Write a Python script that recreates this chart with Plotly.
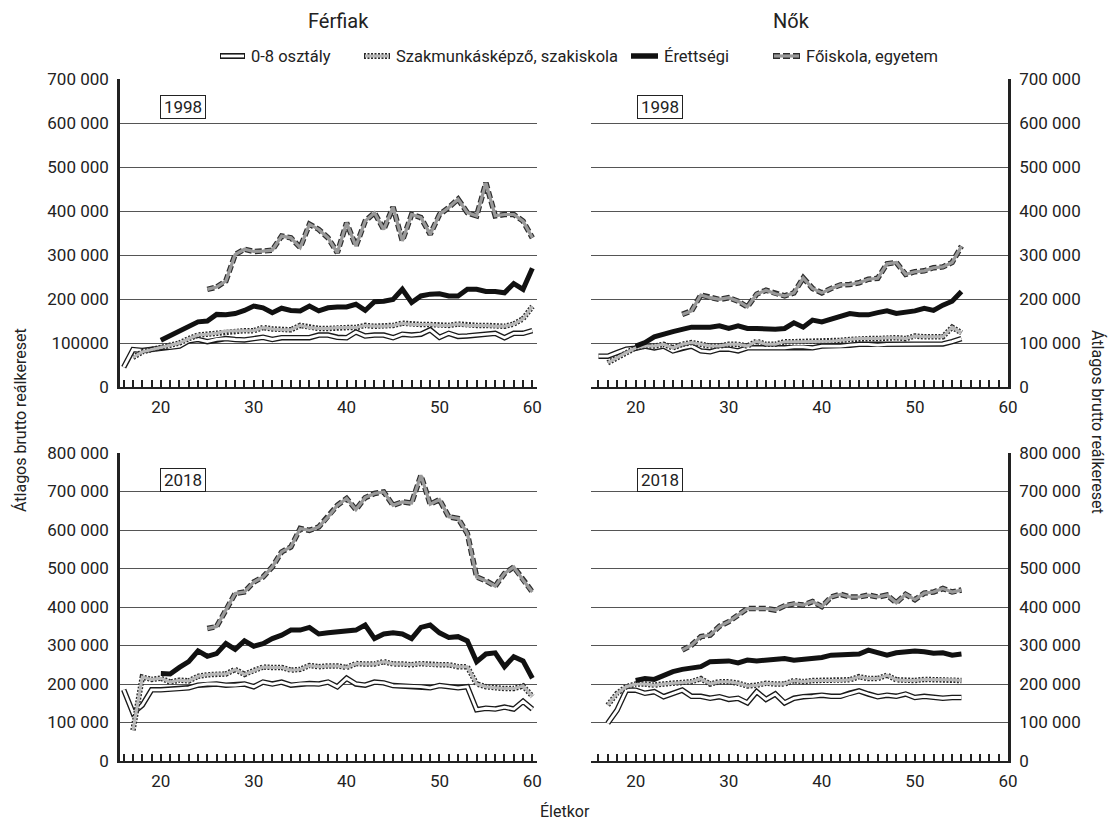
import plotly.graph_objects as go

# ---------------- data (Ft) ----------------
AGES_MEN = list(range(16, 61))
AGES_WOMEN = list(range(16, 56))
SERIES = ["0-8 osztály", "Szakmunkásképző, szakiskola", "Érettségi", "Főiskola, egyetem"]
PANEL_TITLES = ["Férfiak", "Nők"]
YEARS = ["1998", "2018"]

MEN_1998_08 = [45, 85, 83, 85, 90, 90, 93, 105, 108, 103, 108, 110, 108, 107, 110, 113, 108, 112, 112, 112,
               112, 118, 118, 113, 112, 125, 116, 118, 118, 112, 120, 118, 120, 130, 113, 122, 115, 116, 118, 120,
               122, 112, 122, 122, 128]
MEN_1998_SZAK = [67, 80, 85, 90, 95, 100, 110, 118, 120, 122, 127, 128, 128, 128, 135, 132, 130, 130, 140, 135,
                 133, 133, 135, 135, 135, 140, 138, 138, 140, 145, 142, 142, 142, 140, 140, 143, 140, 140, 140, 138,
                 138, 143, 155, 183]
MEN_1998_ERETT = [106, 116, 127, 139, 148, 150, 165, 164, 167, 174, 184, 180, 169, 179, 174, 173, 184, 173, 180, 182,
                  182, 188, 174, 194, 195, 199, 222, 192, 207, 211, 212, 207, 207, 222, 222, 217, 217, 214, 235, 222,
                  270]
MEN_1998_FOISK = [222, 227, 241, 301, 313, 308, 309, 311, 343, 339, 317, 370, 358, 339, 305, 373, 320, 377, 396, 358,
                  409, 332, 392, 385, 347, 392, 408, 427, 396, 389, 464, 389, 392, 392, 377, 339]

WOMEN_1998_08 = [70, 70, 78, 86, 88, 93, 89, 93, 82, 89, 93, 82, 80, 86, 86, 82, 89, 89, 89, 89,
                 89, 91, 91, 89, 93, 93, 93, 95, 97, 97, 95, 97, 97, 97, 97, 98, 98, 98, 103, 110]
WOMEN_1998_SZAK = [55, 67, 78, 89, 93, 93, 97, 89, 97, 101, 97, 93, 93, 97, 97, 93, 104, 97, 97, 103,
                   103, 103, 104, 104, 104, 106, 108, 110, 110, 110, 112, 112, 110, 116, 114, 114, 114, 136, 123]
WOMEN_1998_ERETT = [93, 101, 114, 121, 126, 131, 136, 136, 136, 139, 133, 139, 133, 133, 131, 131, 133, 146, 136, 152,
                    148, 154, 159, 167, 164, 164, 169, 173, 167, 169, 173, 179, 174, 186, 195, 217]
WOMEN_1998_FOISK = [165, 173, 209, 203, 199, 203, 195, 182, 211, 220, 212, 207, 214, 248, 224, 214, 224, 232, 233, 237,
                    245, 247, 280, 283, 256, 262, 264, 271, 273, 283, 320]

MEN_2018_08 = [185, 125, 145, 185, 185, 186, 188, 190, 197, 200, 200, 197, 197, 200, 193, 205, 200, 205, 197, 200,
               201, 200, 205, 193, 215, 200, 197, 205, 203, 196, 195, 195, 193, 190, 196, 193, 190, 193, 133, 137,
               135, 140, 135, 155, 135]
MEN_2018_SZAK = [80, 218, 212, 215, 205, 210, 208, 220, 224, 226, 226, 238, 225, 235, 244, 243, 243, 236, 238, 248,
                 245, 247, 247, 243, 253, 252, 252, 258, 252, 252, 250, 253, 250, 250, 250, 245, 245, 200, 193, 190,
                 188, 188, 195, 168]
MEN_2018_ERETT = [227, 226, 243, 258, 286, 272, 279, 305, 290, 312, 298, 305, 318, 327, 340, 340, 347, 330, 333, 336,
                  340, 340, 353, 318, 330, 333, 330, 318, 347, 353, 333, 321, 323, 312, 258, 278, 281, 245, 271, 260,
                  215]
MEN_2018_FOISK = [344, 349, 392, 435, 439, 465, 478, 504, 543, 556, 604, 599, 608, 634, 664, 682, 653, 684, 695, 699,
                  664, 673, 670, 742, 667, 679, 634, 630, 591, 478, 468, 454, 487, 504, 470, 439]

WOMEN_2018_08 = [98, 132, 184, 184, 176, 180, 167, 176, 184, 168, 168, 163, 167, 160, 163, 151, 180, 160, 174, 151,
                 163, 167, 168, 171, 168, 168, 176, 182, 174, 167, 171, 168, 174, 165, 168, 165, 163, 165, 165]
WOMEN_2018_SZAK = [145, 176, 193, 200, 200, 197, 200, 202, 203, 206, 214, 200, 206, 206, 202, 195, 197, 202, 200, 200,
                   209, 206, 209, 209, 209, 209, 211, 219, 214, 214, 223, 211, 209, 209, 212, 212, 211, 211, 209]
WOMEN_2018_ERETT = [209, 214, 212, 223, 232, 238, 240, 245, 258, 260, 260, 255, 262, 260, 262, 264, 266, 262, 264, 269,
                    269, 275, 275, 275, 278, 288, 280, 275, 281, 284, 286, 284, 280, 281, 275, 278]
WOMEN_2018_FOISK = [288, 301, 323, 327, 350, 362, 379, 396, 396, 396, 392, 403, 408, 405, 414, 401, 426, 433, 426, 426,
                    431, 426, 431, 411, 433, 419, 436, 439, 448, 439, 444]

TICKS_TOP = [0, 100000, 200000, 300000, 400000, 500000, 600000, 700000]
TICKS_BOTTOM = [0, 100000, 200000, 300000, 400000, 500000, 600000, 700000, 800000]
X_TICKS = [20, 30, 40, 50, 60]

# ---------------- styling ----------------
FONT = "Roboto, Liberation Sans, Arial, sans-serif"
INK = "#222222"
TICK_SIZE = 17
# (outer colour, outer width, outer dash, inner colour, inner width) per series; None = single line
STYLES = [
    ("#1a1a1a", 5.5, "solid", "#ffffff", 2.8),
    ("#2a2a2a", 5.5, "2px,1.5px", "#b8b8b8", 3.0),
    ("#111111", 5.0, "solid", None, None),
    ("#2e2e2e", 5.5, "7px,3px", "#999999", 3.2),
]

W, H = 1120, 822
ML, MR, MT, MB = 120, 112, 79, 61
PW, PH = W - ML - MR, H - MT - MB


def px(x):
    return (x - ML) / PW


def py(y):
    return (H - MB - y) / PH


fig = go.Figure()

panels = [
    ("x", "y", AGES_MEN, [MEN_1998_08, MEN_1998_SZAK, MEN_1998_ERETT, MEN_1998_FOISK]),
    ("x2", "y2", AGES_WOMEN, [WOMEN_1998_08, WOMEN_1998_SZAK, WOMEN_1998_ERETT, WOMEN_1998_FOISK]),
    ("x3", "y3", AGES_MEN, [MEN_2018_08, MEN_2018_SZAK, MEN_2018_ERETT, MEN_2018_FOISK]),
    ("x4", "y4", AGES_WOMEN, [WOMEN_2018_08, WOMEN_2018_SZAK, WOMEN_2018_ERETT, WOMEN_2018_FOISK]),
]

for xa, ya, ages, series in panels:
    for name, vals, st in zip(SERIES, series, STYLES):
        xs = ages[len(ages) - len(vals):]
        ys = [v * 1000 for v in vals]
        oc, ow, od, ic, iw = st
        fig.add_trace(go.Scatter(x=xs, y=ys, xaxis=xa, yaxis=ya, mode="lines", name=name,
                                 line=dict(color=oc, width=ow, dash=od), showlegend=False,
                                 hoverinfo="skip"))
        if ic is not None:
            fig.add_trace(go.Scatter(x=xs, y=ys, xaxis=xa, yaxis=ya, mode="lines", name=name,
                                     line=dict(color=ic, width=iw), showlegend=False))

left_dom = [0, px(537)]
right_dom = [px(591), 1]
top_dom = [py(387), 1]
bot_dom = [0, py(453)]


def xcfg(domain, rng, anchor):
    return dict(domain=domain, range=rng, anchor=anchor, tickmode="array", tickvals=X_TICKS,
                ticks="inside", ticklen=7, tickwidth=1.5, tickcolor=INK,
                minor=dict(tickmode="linear", tick0=0, dtick=1, ticks="inside", ticklen=7,
                           tickwidth=1.5, tickcolor=INK, showgrid=False),
                showline=True, linecolor=INK, linewidth=2, showgrid=False, zeroline=False,
                ticklabelstandoff=4,
                tickfont=dict(family=FONT, size=TICK_SIZE, color=INK), fixedrange=True)


def ycfg(domain, ticks, texts, side, anchor):
    return dict(domain=domain, range=[0, ticks[-1]], anchor=anchor, side=side,
                tickmode="array", tickvals=ticks, ticktext=texts, ticks="",
                showline=True, linecolor=INK, linewidth=2.5,
                showgrid=True, gridcolor="#555555", gridwidth=1, zeroline=False,
                ticklabelstandoff=5,
                tickfont=dict(family=FONT, size=TICK_SIZE, color=INK), fixedrange=True)


def fmt(v):
    return f"{v:,}".replace(",", " ")


top_text_left = [fmt(v) for v in TICKS_TOP]
top_text_left[1] = str(TICKS_TOP[1])  # printed without separator in the original
top_text = [fmt(v) for v in TICKS_TOP]
bot_text = [fmt(v) for v in TICKS_BOTTOM]

fig.update_layout(
    width=W, height=H,
    margin=dict(l=ML, r=MR, t=MT, b=MB),
    paper_bgcolor="white", plot_bgcolor="white",
    showlegend=False,
    font=dict(family=FONT, size=TICK_SIZE, color=INK),
    xaxis=xcfg(left_dom, [15.6, 60.5], "y"),
    yaxis=ycfg(top_dom, TICKS_TOP, top_text_left, "left", "x"),
    xaxis2=xcfg(right_dom, [15.2, 60], "y2"),
    yaxis2=ycfg(top_dom, TICKS_TOP, top_text, "right", "x2"),
    xaxis3=xcfg(left_dom, [15.6, 60.5], "y3"),
    yaxis3=ycfg(bot_dom, TICKS_BOTTOM, bot_text, "left", "x3"),
    xaxis4=xcfg(right_dom, [15.2, 60], "y4"),
    yaxis4=ycfg(bot_dom, TICKS_BOTTOM, bot_text, "right", "x4"),
)

ann = []
ann.append(dict(x=px(338), y=py(21), text=PANEL_TITLES[0], font=dict(size=20)))
ann.append(dict(x=px(791), y=py(21), text=PANEL_TITLES[1], font=dict(size=20)))
for (cx, cy, t) in [(183, 107, YEARS[0]), (660, 107, YEARS[0]), (183, 480, YEARS[1]), (660, 480, YEARS[1])]:
    ann.append(dict(x=px(cx), y=py(cy), text=t, bordercolor=INK, borderwidth=1, bgcolor="white",
                    width=44, height=22, borderpad=0, font=dict(size=17)))
ann.append(dict(x=px(20), y=py(420), text="Átlagos brutto reálkereset", textangle=-90, font=dict(size=16)))
ann.append(dict(x=px(1098), y=py(422), text="Átlagos brutto reálkereset", textangle=90, font=dict(size=16)))
ann.append(dict(x=px(565), y=py(811), text="Életkor", font=dict(size=16)))

LEG_Y = 56
legend_pos = [(220, 245), (364, 390), (631, 658), (773, 800)]
shapes = []
for name, (x1, x2), st in zip(SERIES, legend_pos, STYLES):
    oc, ow, od, ic, iw = st
    shapes.append(dict(type="line", xref="paper", yref="paper", x0=px(x1), x1=px(x2), y0=py(LEG_Y), y1=py(LEG_Y),
                       line=dict(color=oc, width=ow + 0.5, dash=od), layer="above"))
    if ic is not None:
        shapes.append(dict(type="line", xref="paper", yref="paper", x0=px(x1 + 1), x1=px(x2 - 1), y0=py(LEG_Y),
                           y1=py(LEG_Y), line=dict(color=ic, width=iw), layer="above"))
    ann.append(dict(x=px(x2 + 4), y=py(LEG_Y), text=name, xanchor="left", font=dict(size=16.5)))

for a in ann:
    a.setdefault("xref", "paper")
    a.setdefault("yref", "paper")
    a.setdefault("showarrow", False)
    a.setdefault("xanchor", "center")
    a.setdefault("yanchor", "middle")
    f = a.get("font", {})
    f.setdefault("family", FONT)
    f.setdefault("color", INK)
    a["font"] = f

fig.update_layout(annotations=ann, shapes=shapes)

fig.write_html("out.html", config={"displayModeBar": False},
               post_script="document.body.style.margin='0';")
